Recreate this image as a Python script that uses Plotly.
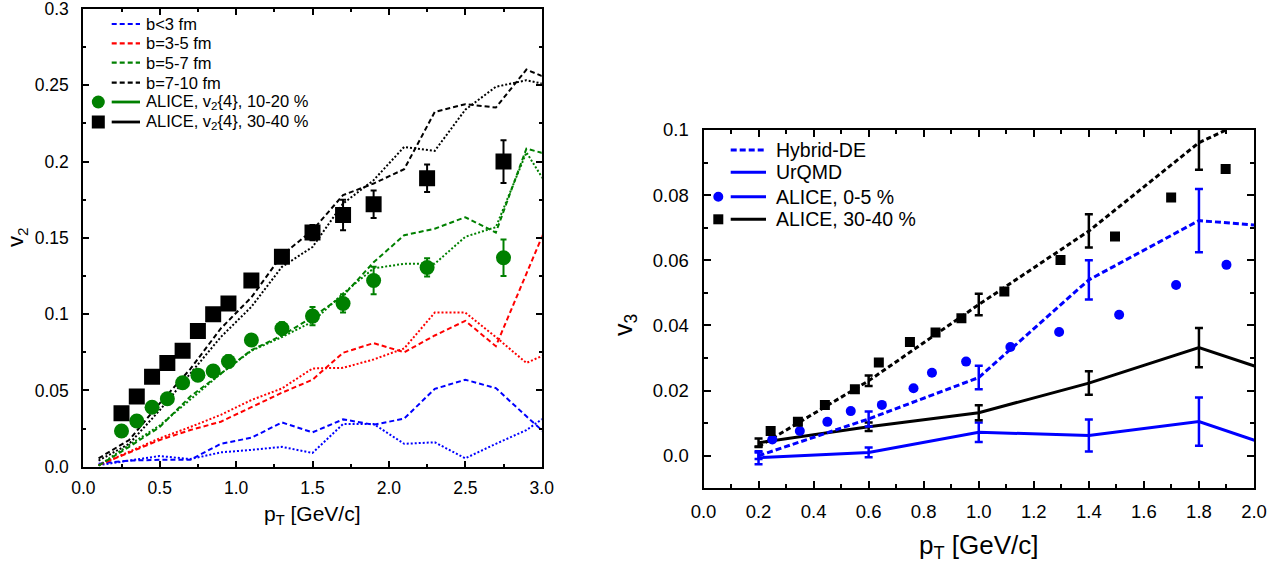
import plotly.graph_objects as go

W, H = 1287, 565
FONT = "Liberation Sans, Arial, Helvetica, sans-serif"

# ---------------- Left panel: v2 ----------------
pt_model = [0.1, 0.3, 0.5, 0.7, 0.9, 1.1, 1.3, 1.5, 1.7, 1.9, 2.1, 2.3, 2.5, 2.7, 2.9, 3.1]
b03_dash = [0.002, 0.004, 0.0045, 0.0045, 0.015, 0.019, 0.029, 0.0225, 0.031, 0.0275, 0.0315, 0.051, 0.057, 0.0515, 0.033, 0.015]
b03_dot = [0.001, 0.004, 0.007, 0.005, 0.0094, 0.011, 0.013, 0.009, 0.028, 0.028, 0.015, 0.016, 0.0055, 0.015, 0.024, 0.038]
b35_dash = [0.001, 0.0094, 0.0175, 0.024, 0.0295, 0.039, 0.0485, 0.057, 0.0747, 0.081, 0.075, 0.086, 0.0956, 0.079, 0.126, 0.174]
b35_dot = [0.001, 0.0098, 0.0186, 0.026, 0.034, 0.0437, 0.0513, 0.0644, 0.0648, 0.0703, 0.0775, 0.101, 0.101, 0.085, 0.068, 0.077]
b57_dash = [0.0007, 0.013, 0.026, 0.046, 0.061, 0.0764, 0.086, 0.098, 0.112, 0.134, 0.1517, 0.156, 0.1635, 0.1535, 0.2085, 0.203]
b57_dot = [0.0007, 0.0142, 0.027, 0.0437, 0.061, 0.076, 0.085, 0.095, 0.1135, 0.13, 0.133, 0.133, 0.1507, 0.157, 0.206, 0.174]
b710_dash = [0.0055, 0.0175, 0.0415, 0.064, 0.0906, 0.111, 0.1386, 0.155, 0.178, 0.1856, 0.195, 0.2325, 0.2376, 0.2354, 0.2603, 0.252]
b710_dot = [0.004, 0.015, 0.037, 0.061, 0.085, 0.1048, 0.131, 0.144, 0.1725, 0.1878, 0.2096, 0.207, 0.234, 0.249, 0.2533, 0.249]

pt_alice_v2 = [0.25, 0.35, 0.45, 0.55, 0.65, 0.75, 0.85, 0.95, 1.1, 1.3, 1.5, 1.7, 1.9, 2.25, 2.75]
v2_1020 = [0.0234, 0.030, 0.039, 0.0445, 0.055, 0.060, 0.0627, 0.069, 0.083, 0.0906, 0.0987, 0.107, 0.122, 0.1306, 0.137]
v2_1020_err = [0.001, 0.001, 0.001, 0.001, 0.002, 0.002, 0.002, 0.004, 0.003, 0.004, 0.006, 0.006, 0.009, 0.006, 0.012]
v2_3040 = [0.035, 0.046, 0.059, 0.068, 0.076, 0.089, 0.100, 0.107, 0.122, 0.1376, 0.1535, 0.165, 0.172, 0.189, 0.200]
v2_3040_err = [0.001, 0.001, 0.001, 0.001, 0.001, 0.001, 0.001, 0.002, 0.003, 0.004, 0.005, 0.010, 0.009, 0.009, 0.014]

left_xticks = [0.0, 0.5, 1.0, 1.5, 2.0, 2.5, 3.0]
left_xticktext = ["0.0", "0.5", "1.0", "1.5", "2.0", "2.5", "3.0"]
left_yticks = [0.0, 0.05, 0.1, 0.15, 0.2, 0.25, 0.3]
left_yticktext = ["0.0", "0.05", "0.1", "0.15", "0.2", "0.25", "0.3"]

# ---------------- Right panel: v3 ----------------
pt_model_v3 = [0.2, 0.6, 1.0, 1.4, 1.8, 2.2]
hyb_05 = [0.0, 0.0113, 0.024, 0.054, 0.0722, 0.0694]
hyb_05_err = [0.001, 0.0023, 0.0036, 0.006, 0.0097, 0.0]
urqmd_05 = [-0.0006, 0.001, 0.0072, 0.0062, 0.0105, -0.0009]
urqmd_05_err = [0.002, 0.0015, 0.003, 0.0049, 0.0074, 0.0]
hyb_3040 = [0.0028, 0.023, 0.0464, 0.069, 0.0961, 0.112]
hyb_3040_err = [0.0, 0.0016, 0.0033, 0.0051, 0.0083, 0.0]
urqmd_3040 = [0.004, 0.0089, 0.0132, 0.0223, 0.0332, 0.022]
urqmd_3040_err = [0.0013, 0.0013, 0.0023, 0.0036, 0.006, 0.0]

pt_alice_05 = [0.25, 0.35, 0.45, 0.535, 0.648, 0.763, 0.83, 0.954, 1.115, 1.292, 1.51, 1.717, 1.9]
v3_05 = [0.005, 0.0076, 0.0104, 0.0137, 0.0156, 0.0207, 0.0255, 0.0289, 0.0334, 0.038, 0.0433, 0.0524, 0.0586]
pt_alice_3040 = [0.244, 0.343, 0.441, 0.55, 0.637, 0.75, 0.843, 0.937, 1.093, 1.297, 1.495, 1.699, 1.897]
v3_3040 = [0.0076, 0.0104, 0.0156, 0.0204, 0.0286, 0.0349, 0.0378, 0.0422, 0.0504, 0.0601, 0.0673, 0.0793, 0.088]

right_xticks = [0.0, 0.2, 0.4, 0.6, 0.8, 1.0, 1.2, 1.4, 1.6, 1.8, 2.0]
right_xticktext = ["0.0", "0.2", "0.4", "0.6", "0.8", "1.0", "1.2", "1.4", "1.6", "1.8", "2.0"]
right_yticks = [0.0, 0.02, 0.04, 0.06, 0.08, 0.1]
right_yticktext = ["0.0", "0.02", "0.04", "0.06", "0.08", "0.1"]

BLUE, RED, GREEN, BLACK = "#0000ff", "#ff0000", "#008000", "#000000"
DASH_L = "5px,3px"
DOT_L = "2px,2px"


def px(x):
    return x / W


def py(y):
    return 1 - y / H


fig = go.Figure()

# left models
for ys, col, dash in [
    (b03_dot, BLUE, DOT_L), (b35_dot, RED, DOT_L), (b57_dot, GREEN, DOT_L), (b710_dot, BLACK, DOT_L),
    (b03_dash, BLUE, DASH_L), (b35_dash, RED, DASH_L), (b57_dash, GREEN, DASH_L), (b710_dash, BLACK, DASH_L),
]:
    fig.add_trace(go.Scatter(x=pt_model, y=ys, mode="lines", xaxis="x", yaxis="y",
                             line=dict(color=col, width=2, dash=dash), showlegend=False, hoverinfo="skip"))

fig.add_trace(go.Scatter(x=pt_alice_v2, y=v2_1020, mode="markers", xaxis="x", yaxis="y",
                         marker=dict(symbol="circle", size=15, color=GREEN),
                         error_y=dict(type="data", array=v2_1020_err, color=GREEN, thickness=2, width=3),
                         showlegend=False))
fig.add_trace(go.Scatter(x=pt_alice_v2, y=v2_3040, mode="markers", xaxis="x", yaxis="y",
                         marker=dict(symbol="square", size=16, color=BLACK),
                         error_y=dict(type="data", array=v2_3040_err, color=BLACK, thickness=2, width=3),
                         showlegend=False))

# right models
fig.add_trace(go.Scatter(x=pt_model_v3, y=urqmd_05, mode="lines", xaxis="x2", yaxis="y2",
                         line=dict(color=BLUE, width=3),
                         error_y=dict(type="data", array=urqmd_05_err, color=BLUE, thickness=2.5, width=4),
                         showlegend=False))
fig.add_trace(go.Scatter(x=pt_model_v3, y=urqmd_3040, mode="lines", xaxis="x2", yaxis="y2",
                         line=dict(color=BLACK, width=3),
                         error_y=dict(type="data", array=urqmd_3040_err, color=BLACK, thickness=2.5, width=4),
                         showlegend=False))
fig.add_trace(go.Scatter(x=pt_model_v3, y=hyb_05, mode="lines", xaxis="x2", yaxis="y2",
                         line=dict(color=BLUE, width=3, dash="6px,3px"),
                         error_y=dict(type="data", array=hyb_05_err, color=BLUE, thickness=2.5, width=4),
                         showlegend=False))
fig.add_trace(go.Scatter(x=pt_model_v3, y=hyb_3040, mode="lines", xaxis="x2", yaxis="y2",
                         line=dict(color=BLACK, width=3, dash="5px,3px"),
                         error_y=dict(type="data", array=hyb_3040_err, color=BLACK, thickness=2.5, width=4),
                         showlegend=False))
fig.add_trace(go.Scatter(x=pt_alice_05, y=v3_05, mode="markers", xaxis="x2", yaxis="y2",
                         marker=dict(symbol="circle", size=10, color=BLUE), showlegend=False))
fig.add_trace(go.Scatter(x=pt_alice_3040, y=v3_3040, mode="markers", xaxis="x2", yaxis="y2",
                         marker=dict(symbol="square", size=10, color=BLACK), showlegend=False))


def axis(domain, rng, tv, tt, anchor, fsize, ticklen, minor_dtick, standoff):
    return dict(domain=domain, range=rng, tickmode="array", tickvals=tv, ticktext=tt,
                ticks="inside", ticklen=ticklen, tickwidth=1.5, tickcolor="black",
                minor=dict(tick0=0, dtick=minor_dtick, ticks="inside", ticklen=max(3, ticklen - 3),
                           tickwidth=1.5, tickcolor="black", showgrid=False),
                showline=True, linewidth=2, linecolor="black", mirror="allticks",
                showgrid=False, zeroline=False, anchor=anchor, automargin=False,
                ticklabeloverflow="allow",
                tickfont=dict(family=FONT, size=fsize, color="black"),
                ticklabelstandoff=standoff)


L_X0, L_X1, L_Y0, L_Y1 = 83.3, 541.7, 9.0, 466.7
R_X0, R_X1, R_Y0, R_Y1 = 703.5, 1254.0, 130.0, 488.3

annotations = []
shapes = []

# axis titles
annotations += [
    dict(text="p<sub>T</sub> [GeV/c]", x=px((L_X0 + L_X1) / 2), y=py(515), xref="paper", yref="paper",
         showarrow=False, font=dict(family=FONT, size=21, color="black"), xanchor="center", yanchor="middle"),
    dict(text="v<sub>2</sub>", x=px(17), y=py(237), xref="paper", yref="paper", textangle=-90,
         showarrow=False, font=dict(family=FONT, size=22, color="black"), xanchor="center", yanchor="middle"),
    dict(text="p<sub>T</sub> [GeV/c]", x=px((R_X0 + R_X1) / 2), y=py(546), xref="paper", yref="paper",
         showarrow=False, font=dict(family=FONT, size=26, color="black"), xanchor="center", yanchor="middle"),
    dict(text="v<sub>3</sub>", x=px(625), y=py(325), xref="paper", yref="paper", textangle=-90,
         showarrow=False, font=dict(family=FONT, size=25, color="black"), xanchor="center", yanchor="middle"),
]

# left legend
left_leg = [
    ("b<3 fm", BLUE, DASH_L, None),
    ("b=3-5 fm", RED, DASH_L, None),
    ("b=5-7 fm", GREEN, DASH_L, None),
    ("b=7-10 fm", BLACK, DASH_L, None),
    ("ALICE, v<sub>2</sub>{4}, 10-20 %", GREEN, "solid", "circle"),
    ("ALICE, v<sub>2</sub>{4}, 30-40 %", BLACK, "solid", "rect"),
]
left_rows = [24, 43.3, 62.7, 82.7, 102, 122]
for (txt, col, dash, mk), yy in zip(left_leg, left_rows):
    shapes.append(dict(type="line", xref="paper", yref="paper", x0=px(111.7), x1=px(140), y0=py(yy), y1=py(yy),
                       line=dict(color=col, width=2.2 if dash != "solid" else 2.8, dash=dash)))
    annotations.append(dict(text=txt, x=px(144), y=py(yy), xref="paper", yref="paper", showarrow=False,
                            xanchor="left", yanchor="middle", font=dict(family=FONT, size=16.5, color="black")))
    if mk:
        shapes.append(dict(type=mk, xref="paper", yref="paper", xsizemode="pixel", ysizemode="pixel",
                           xanchor=px(98.3), yanchor=py(yy), x0=-6.5, x1=6.5, y0=-6.5, y1=6.5,
                           fillcolor=col, line=dict(width=0)))

# right legend
right_leg = [
    ("Hybrid-DE", BLUE, "6px,3px", None),
    ("UrQMD", BLUE, "solid", None),
    ("ALICE, 0-5 %", BLUE, "solid", "circle"),
    ("ALICE, 30-40 %", BLACK, "solid", "rect"),
]
right_rows = [150, 172.3, 196.7, 219.3]
for (txt, col, dash, mk), yy in zip(right_leg, right_rows):
    shapes.append(dict(type="line", xref="paper", yref="paper", x0=px(730.7), x1=px(766), y0=py(yy), y1=py(yy),
                       line=dict(color=col, width=3, dash=dash)))
    annotations.append(dict(text=txt, x=px(774), y=py(yy), xref="paper", yref="paper", showarrow=False,
                            xanchor="left", yanchor="middle", font=dict(family=FONT, size=19.5, color="black")))
    if mk:
        shapes.append(dict(type=mk, xref="paper", yref="paper", xsizemode="pixel", ysizemode="pixel",
                           xanchor=px(718.3), yanchor=py(yy), x0=-5, x1=5, y0=-5, y1=5,
                           fillcolor=col, line=dict(width=0)))

fig.update_layout(
    width=W, height=H, margin=dict(l=0, r=0, t=0, b=0, autoexpand=False),
    paper_bgcolor="white", plot_bgcolor="white", showlegend=False,
    font=dict(family=FONT, color="black"),
    xaxis=axis([px(L_X0), px(L_X1)], [0, 3.0], left_xticks, left_xticktext, "y", 17.5, 6, 0.25, 4),
    yaxis=axis([py(L_Y1), py(L_Y0)], [0, 0.3], left_yticks, left_yticktext, "x", 17.5, 6, 0.025, 9),
    xaxis2=axis([px(R_X0), px(R_X1)], [0, 2.0], right_xticks, right_xticktext, "y2", 18.5, 7, 0.1, 5),
    yaxis2=axis([py(R_Y1), py(R_Y0)], [-0.01, 0.1], right_yticks, right_yticktext, "x2", 18.5, 7, 0.01, 9),
    annotations=annotations, shapes=shapes,
)

fig.write_html(
    "out.html",
    config={"displayModeBar": False},
    post_script="document.body.style.margin='0';document.body.style.overflow='hidden';",
)
